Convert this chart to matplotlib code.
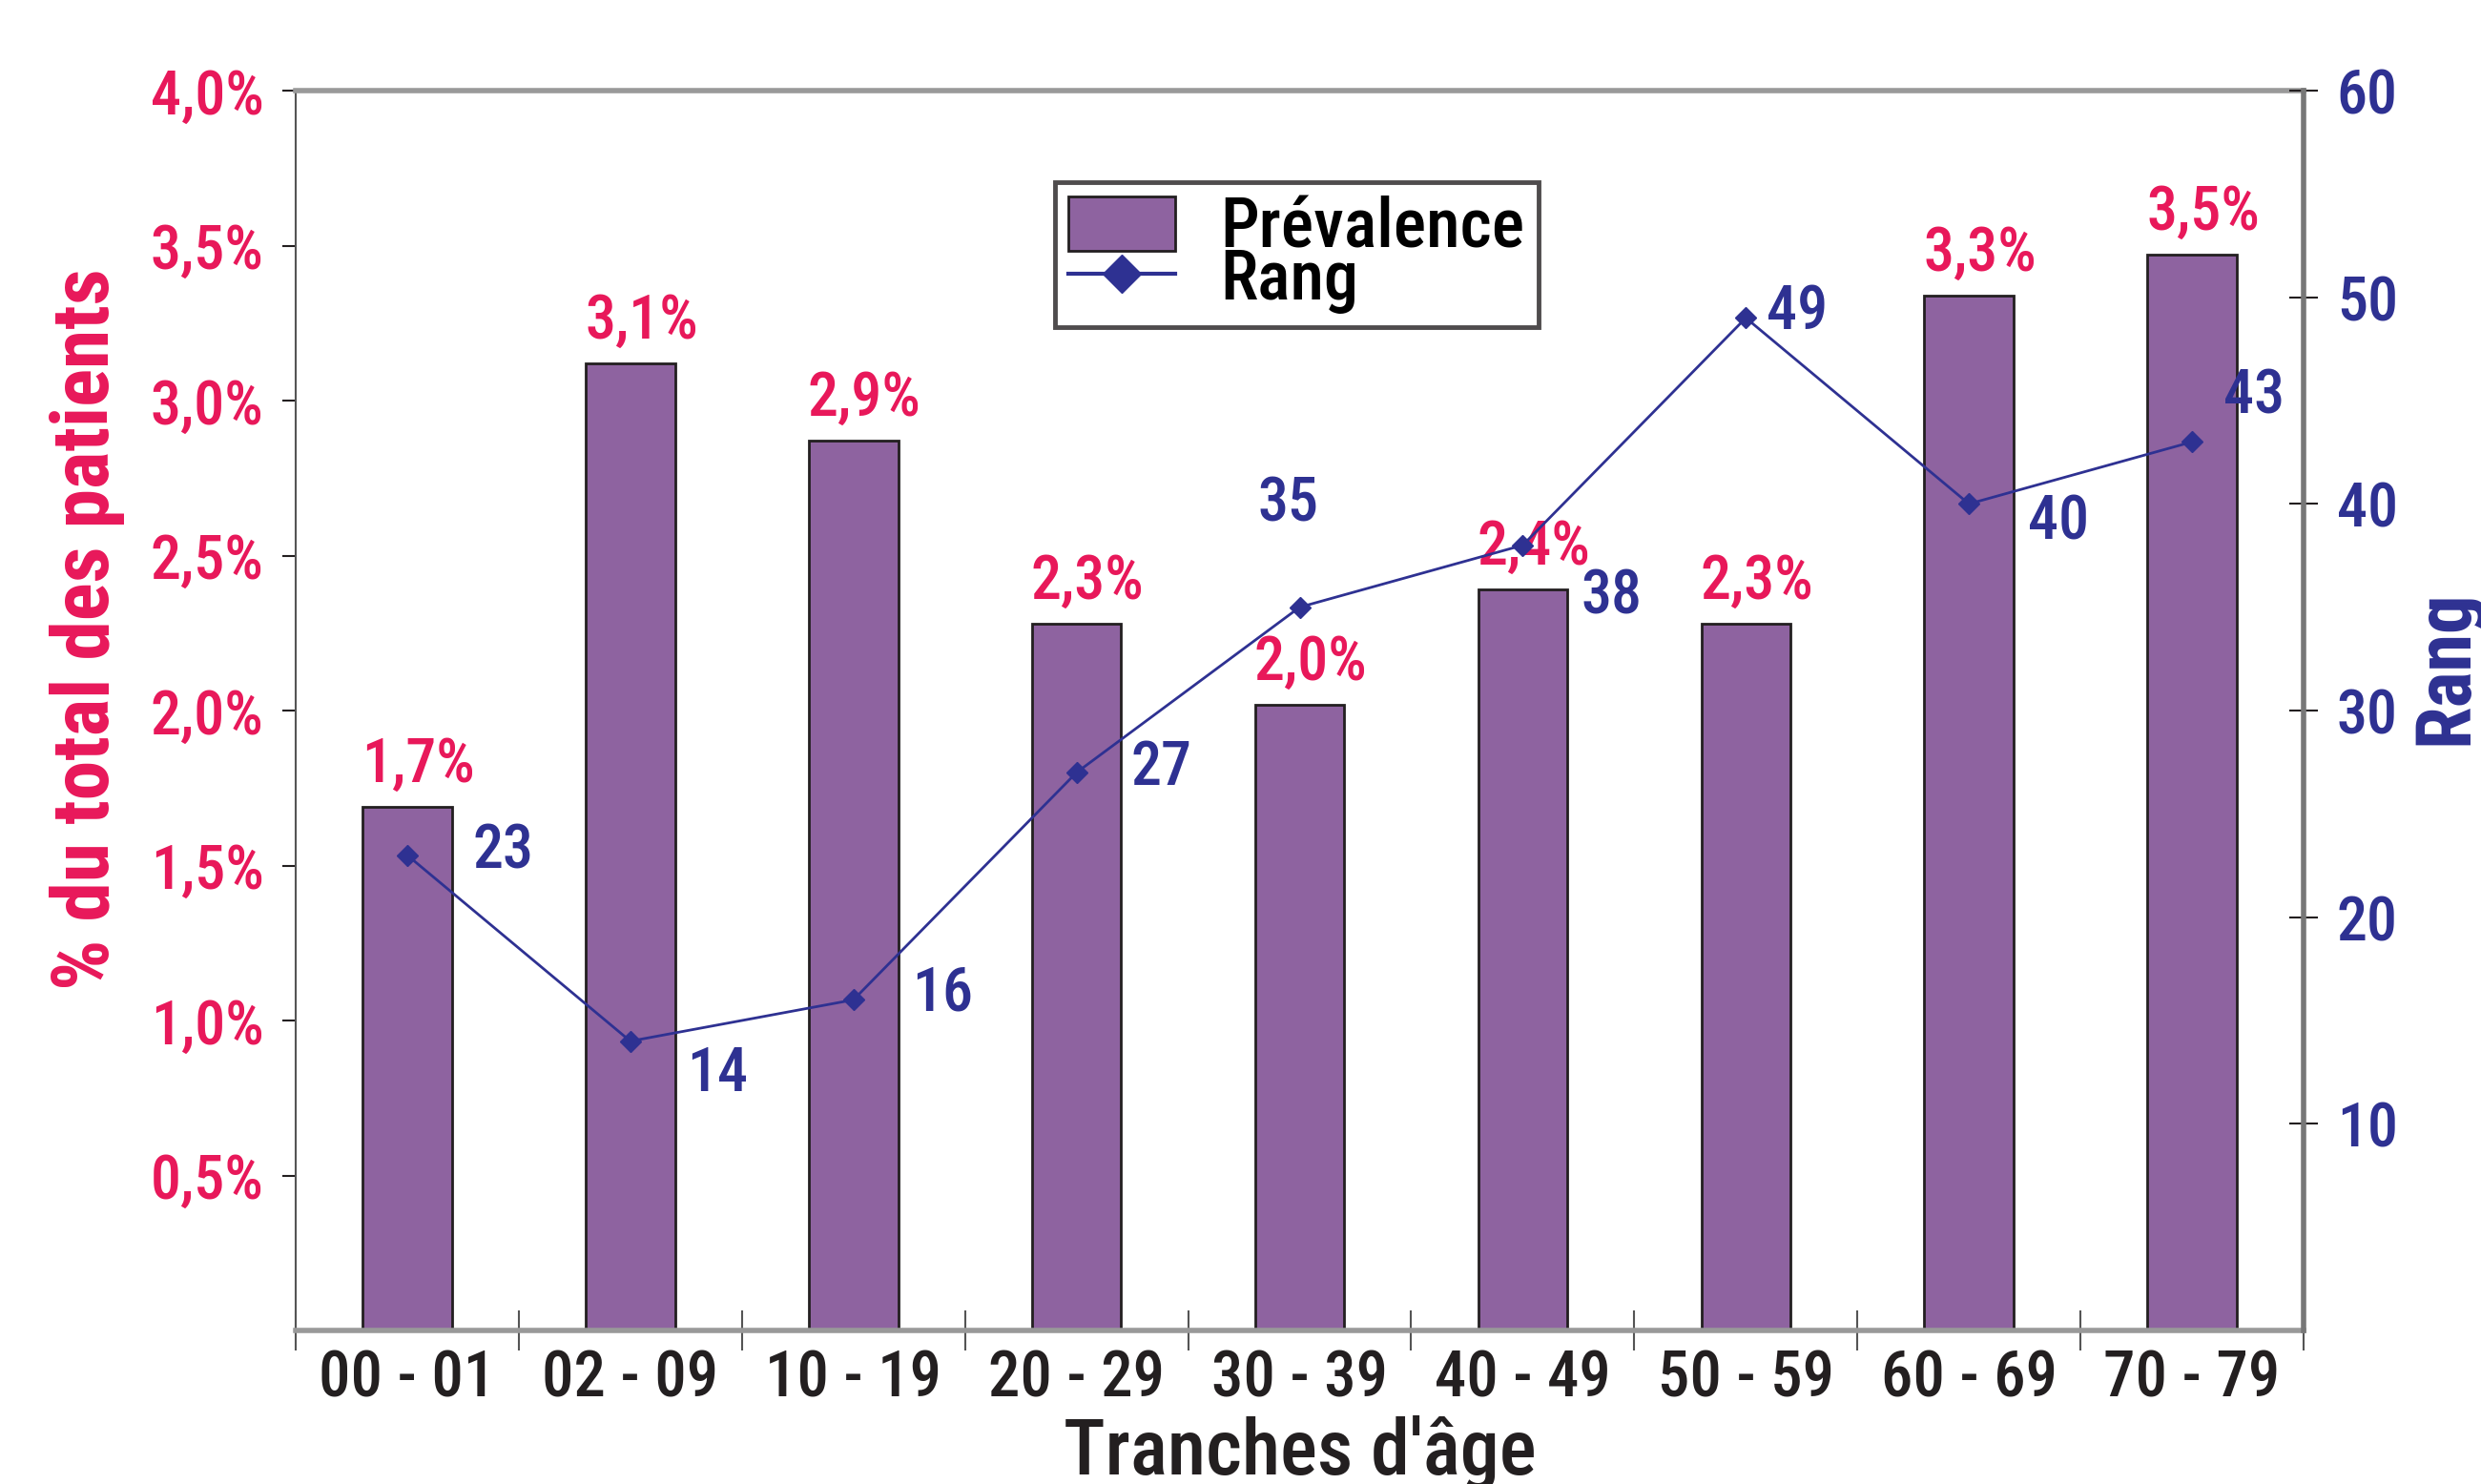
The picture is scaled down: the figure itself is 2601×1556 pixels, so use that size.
import matplotlib
matplotlib.use('Agg')
import matplotlib.pyplot as plt
import numpy as np
from matplotlib.patches import Patch
from matplotlib.lines import Line2D

# data
tranches = ['00 - 01', '02 - 09', '10 - 19', '20 - 29', '30 - 39',
            '40 - 49', '50 - 59', '60 - 69', '70 - 79']
prevalence = [1.69, 3.12, 2.87, 2.28, 2.02, 2.39, 2.28, 3.34, 3.47]
prev_labels = ['1,7%', '3,1%', '2,9%', '2,3%', '2,0%', '2,4%', '2,3%', '3,3%', '3,5%']
rang = [23, 14, 16, 27, 35, 38, 49, 40, 43]
left_ticks = [0.5, 1.0, 1.5, 2.0, 2.5, 3.0, 3.5, 4.0]
left_tick_labels = ['0,5%', '1,0%', '1,5%', '2,0%', '2,5%', '3,0%', '3,5%', '4,0%']
right_ticks = [10, 20, 30, 40, 50, 60]

pink = '#E8185A'
navy = '#2E3192'
purple = '#8E63A0'
dark = '#231F20'

plt.rcParams['font.family'] = ['Roboto Condensed', 'Archivo Narrow', 'Liberation Sans Narrow', 'DejaVu Sans']
plt.rcParams['font.weight'] = 'medium'

fig = plt.figure(figsize=(26.01, 15.56), dpi=100)
ax = fig.add_axes([310/2601, 1 - 1395/1556, (2415-310)/2601, (1395-95)/1556])
x = np.arange(len(tranches))

ax.bar(x, prevalence, width=0.4, color=purple, edgecolor=dark, linewidth=2, zorder=2)
ax.set_xlim(-0.5, len(tranches) - 0.5)
ax.set_ylim(0, 4.0)
ax.set_yticks(left_ticks)
ax.set_yticklabels(left_tick_labels, color=pink, fontsize=46)
ax.set_xticks(x)
ax.set_xticklabels(tranches, fontsize=48, color=dark)
ax.tick_params(axis='x', length=0, pad=14)
ax.set_xticks(np.arange(-0.5, len(tranches)), minor=True)
ax.tick_params(axis='x', which='minor', direction='inout', length=30, width=1.5, color='#555555')
ax.tick_params(axis='y', direction='out', length=10, width=1.5, pad=14, color=dark)
ax.set_ylabel('% du total des patients', color=pink, fontsize=60, fontweight='bold')
ax.yaxis.set_label_coords(-0.085, 0.566)
ax.set_xlabel("Tranches d'âge", color=dark, fontsize=59, fontweight='medium', labelpad=4)

for s in ['top', 'bottom']:
    ax.spines[s].set_color('#999999')
    ax.spines[s].set_linewidth(4)
ax.spines['left'].set_color('#555555')
ax.spines['left'].set_linewidth(1.5)

# bar value labels
for i, v in enumerate(prevalence):
    ax.text(x[i] + 0.05, v + 0.04, prev_labels[i], ha='center', va='bottom',
            color=pink, fontsize=46)

ax2 = ax.twinx()
ax2.plot(x, rang, color=navy, linewidth=2, marker='D', markersize=11, zorder=3)
ax2.set_ylim(0, 60)
ax2.set_yticks(right_ticks)
ax2.set_yticklabels([str(t) for t in right_ticks], color=navy, fontsize=46)
ax2.tick_params(axis='y', direction='inout', length=22, width=1.5, pad=14, color=dark)
ax2.set_ylabel('Rang', color=navy, fontsize=58, fontweight='bold', va='center')
ax2.yaxis.set_label_coords(1.071, 0.535)
ax2.spines['right'].set_color('#777777')
ax2.spines['right'].set_linewidth(4)
for s in ['top', 'bottom', 'left']:
    ax2.spines[s].set_visible(False)

# rank labels (offsets in data units)
offs = [(0.43, 0.2), (0.39, -1.6), (0.40, 0.3), (0.38, 0.23), (-0.05, 5.0),
        (0.40, -2.5), (0.23, 0.3), (0.40, -0.9), (0.28, 2.2)]
for i, r in enumerate(rang):
    dx, dy = offs[i]
    ax2.text(x[i] + dx, r + dy, str(r), ha='center', va='center', color=navy,
             fontsize=46)

# legend
handles = [Patch(facecolor=purple, edgecolor=dark, linewidth=2),
           Line2D([0], [0], color=navy, linewidth=3, marker='D', markersize=20)]
leg = ax2.legend(handles, ['Prévalence', 'Rang'], loc='upper left',
                 bbox_to_anchor=((1106-310)/2105, (1395-191)/1300),
                 prop={'size': 52, 'weight': 'medium'},
                 frameon=True, fancybox=False, edgecolor=dark, handlelength=1.55,
                 handleheight=0.85, labelspacing=-0.2, borderpad=0.2, handletextpad=0.65,
                 borderaxespad=0)
leg.get_frame().set_linewidth(3.5)

fig.savefig('out.png', dpi=100)
